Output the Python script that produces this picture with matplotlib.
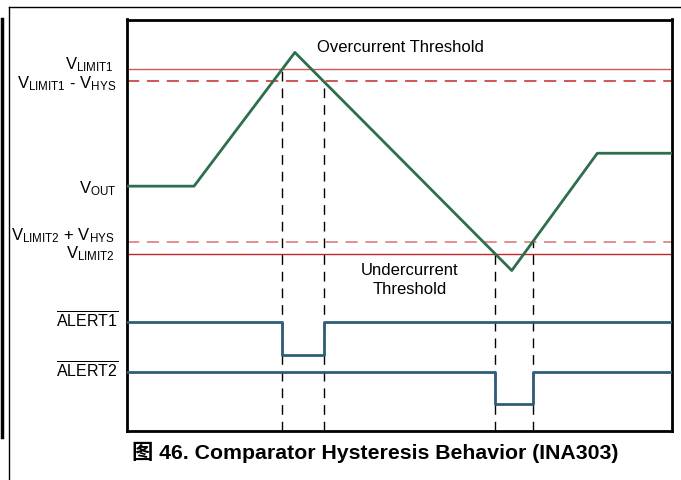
import numpy as np
import matplotlib
matplotlib.use('Agg')
import matplotlib.pyplot as plt
from matplotlib.lines import Line2D

plt.rcParams['font.family'] = ['Liberation Sans', 'Noto Sans CJK SC']
plt.rcParams['mathtext.fontset'] = 'custom'
plt.rcParams['mathtext.rm'] = 'Liberation Sans'
plt.rcParams['mathtext.it'] = 'Liberation Sans'

# waveform (time 0..100, level 0..10)
vout_t = [0, 12.3, 30.8, 70.6, 86.3, 100]
vout_v = [5.95, 5.95, 9.2, 3.9, 6.75, 6.75]

v_limit1 = 8.8
v_limit1_hys = 8.5
v_limit2 = 4.3
v_limit2_hys = 4.6

alert1_hi, alert1_lo = 2.66, 1.85
alert2_hi, alert2_lo = 1.43, 0.66


def cross(seg, level):
    t0, t1 = vout_t[seg], vout_t[seg + 1]
    v0, v1 = vout_v[seg], vout_v[seg + 1]
    return t0 + (level - v0) / (v1 - v0) * (t1 - t0)


t_a1_down = cross(1, v_limit1)
t_a1_up = cross(2, v_limit1_hys)
t_a2_down = cross(2, v_limit2)
t_a2_up = cross(3, v_limit2_hys)

fig = plt.figure(figsize=(6.81, 4.80), dpi=100)
ax = fig.add_axes([127 / 681, 49 / 480, 545 / 681, 411.5 / 480])
ax.set_xlim(0, 100)
ax.set_ylim(0, 10)
ax.set_xticks([])
ax.set_yticks([])
for s in ax.spines.values():
    s.set_linewidth(2)
    s.set_color('black')

red_solid = '#c85a5c'
red_dash = '#c0282a'
green = '#2d6e4c'
blue = '#2e5e77'

ax.axhline(v_limit1, color=red_solid, lw=1)
ax.axhline(v_limit1_hys, color=red_dash, lw=1.1, dashes=(8, 5))
ax.axhline(v_limit2_hys, color=red_dash, lw=1.1, dashes=(8, 5), alpha=0.65)
ax.axhline(v_limit2, color=red_dash, lw=1)

ax.plot(vout_t, vout_v, color=green, lw=2, zorder=4)

# vertical marker lines
for t, lv in [(t_a1_down, v_limit1), (t_a1_up, v_limit1_hys),
              (t_a2_down, v_limit2), (t_a2_up, v_limit2_hys)]:
    ax.plot([t, t], [0, lv], color='black', lw=1, dashes=(7, 5), zorder=3)

ax.plot([0, t_a1_down, t_a1_down, t_a1_up, t_a1_up, 100],
        [alert1_hi, alert1_hi, alert1_lo, alert1_lo, alert1_hi, alert1_hi],
        color=blue, lw=2, zorder=4)
ax.plot([0, t_a2_down, t_a2_down, t_a2_up, t_a2_up, 100],
        [alert2_hi, alert2_hi, alert2_lo, alert2_lo, alert2_hi, alert2_hi],
        color=blue, lw=2, zorder=4)

ax.text(50.1, 9.31, 'Overcurrent Threshold', ha='center', va='center', fontsize=12)
ax.text(51.9, 3.66, 'Undercurrent\nThreshold', ha='center', va='center',
        fontsize=12, linespacing=1.35)

labels = [
    (r'V$_{\mathrm{LIMIT1}}$', v_limit1, 0, -13, 12),
    (r'V$_{\mathrm{LIMIT1}}$ - V$_{\mathrm{HYS}}$', v_limit1_hys, -6.7, -11, 12),
    (r'V$_{\mathrm{OUT}}$', vout_v[0], -7.3, -10, 12),
    (r'V$_{\mathrm{LIMIT2}}$ + V$_{\mathrm{HYS}}$', v_limit2_hys, 1.5, -13, 12),
    (r'V$_{\mathrm{LIMIT2}}$', v_limit2, -4, -12, 12),
    (r'$\overline{\mathrm{ALERT1}}$', alert1_hi, -6.5, -9, 11.5),
    (r'$\overline{\mathrm{ALERT2}}$', alert2_hi, -6, -9, 11.5),
]
for txt, lv, dy, dx, fs in labels:
    ax.annotate(txt, xy=(0, lv), xycoords=('axes fraction', 'data'),
                xytext=(dx, dy), textcoords='offset pixels',
                ha='right', va='baseline', fontsize=fs, annotation_clip=False)

fig.text(375 / 681, 1 - 452 / 480, '图 46. Comparator Hysteresis Behavior (INA303)',
         ha='center', va='center', fontsize=15.3, fontweight='bold')

# page frame
fig.add_artist(Line2D([9 / 681, 1], [1 - 7.3 / 480] * 2, transform=fig.transFigure,
                      color='black', lw=1))
fig.add_artist(Line2D([9 / 681] * 2, [0, 1 - 7.3 / 480], transform=fig.transFigure,
                      color='black', lw=1))
fig.add_artist(Line2D([1.5 / 681] * 2, [1 - 19 / 480, 1 - 437 / 480],
                      transform=fig.transFigure, color='black', lw=2.5))

fig.savefig('out.png', dpi=100)
